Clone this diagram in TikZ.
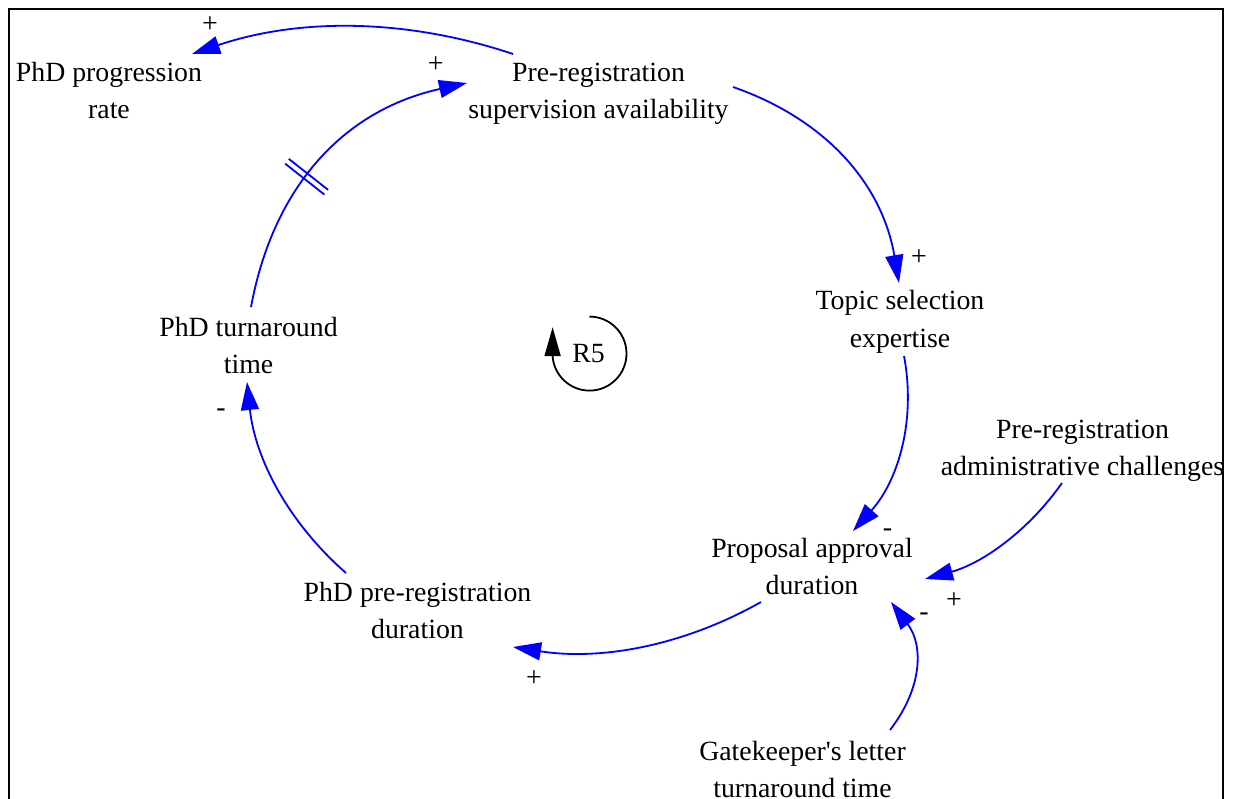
\documentclass[tikz,border=0pt]{standalone}
\usepackage{fontspec}
\setmainfont{Liberation Serif}
\usetikzlibrary{arrows.meta,decorations.markings}
\begin{document}
\begin{tikzpicture}[x=1pt,y=-1pt,
  var/.style={align=center,inner sep=0pt,font=\fontsize{27.8}{37}\selectfont},
  sign/.style={inner sep=0pt,font=\fontsize{28}{37}\selectfont},
  link/.style={draw=blue,line width=1.8pt,-{Triangle[length=28pt,width=18pt]}},
  delaymark/.style={draw=blue,line width=1.8pt,arrows=-},
  looparrow/.style={draw=black,line width=1.8pt,-{Triangle[length=29pt,width=16pt]}},
  frame/.style={draw=black,line width=2.2pt}
]
\useasboundingbox (0,0) rectangle (1236,799);

% outer frame (runs off the bottom edge)
\draw[frame] (9.3,805) -- (9.3,9) -- (1223.3,9) -- (1223.3,805);

% variables
\node[var] (prog)   at (109,93.1)    {PhD progression\strut\\rate\strut};
\node[var] (sup)    at (598.5,93.1)  {Pre-registration\strut\\supervision availability\strut};
\node[var] (topic)  at (900,321.1)   {Topic selection\strut\\expertise\strut};
\node[var] (admin)  at (1082.5,449.1){Pre-registration\strut\\administrative challenges\strut};
\node[var] (prop)   at (812,568.1)   {Proposal approval\strut\\duration\strut};
\node[var] (prereg) at (417.5,612.1) {PhD pre-registration\strut\\duration\strut};
\node[var] (turn)   at (248.5,348.1) {PhD turnaround\strut\\time\strut};
\node[var] (gate)   at (802.5,771.1) {Gatekeeper\textquotesingle s letter\strut\\turnaround time\strut};

% causal links
\draw[link] ([shift={(-85.5,-39.1)}]sup.center)
  .. controls +(-107.7,-36) and +(106.3,-36) .. ([shift={(83,-39.1)}]prog.center);
\draw[link,
  decoration={markings,mark=at position 0.43 with {\draw[delaymark] (-3,-25) -- (-3,25) (3,-25) -- (3,25);}},
  postaction={decorate}]
  ([shift={(2.5,-41.1)}]turn.center)
  .. controls +(22.7,-122.7) and +(-121.3,26.7) .. ([shift={(-131.5,-10.1)}]sup.center);
\draw[link] ([shift={(134.5,-6.1)}]sup.center)
  .. controls +(94,32.7) and +(-16.7,-98) .. ([shift={(-1,-38.1)}]topic.center);
\draw[link] ([shift={(4,34.9)}]topic.center)
  .. controls +(12.5,66.9) and +(44,-49) .. ([shift={(41,-37.1)}]prop.center);
\draw[link] ([shift={(-20.5,33.9)}]admin.center)
  .. controls +(-34.2,48.4) and +(57.1,-15.6) .. ([shift={(113,10.9)}]prop.center);
\draw[link] ([shift={(87.5,-41.1)}]gate.center)
  .. controls +(33,-42.7) and +(32.3,42.7) .. ([shift={(79,33.9)}]prop.center);
\draw[link] ([shift={(-51,33.9)}]prop.center)
  .. controls +(-77.5,43.8) and +(87.9,13.8) .. ([shift={(95.5,34.9)}]prereg.center);
\draw[link] ([shift={(-71.5,-39.1)}]prereg.center)
  .. controls +(-57.9,-50.7) and +(8.1,76.6) .. ([shift={(-1.5,33.9)}]turn.center);

% link polarities
\node[sign] (s1) at (210,25)    {+};
\node[sign] (s2) at (435.7,65)  {+};
\node[sign] (s3) at (919,258)   {+};
\node[sign] (s4) at (887.5,533) {-};
\node[sign] (s5) at (954,601)   {+};
\node[sign] (s6) at (924,617)   {-};
\node[sign] (s7) at (534,679)   {+};
\node[sign] (s8) at (221,413)   {-};

% reinforcing loop marker
\node[var] (r5) at (588.5,354) {R5};
\draw[looparrow] ([shift={(1,-37.4)}]r5.center)
  arc[start angle=-90,end angle=176,radius=37] -- ++(0,-29);
\end{tikzpicture}
\end{document}
